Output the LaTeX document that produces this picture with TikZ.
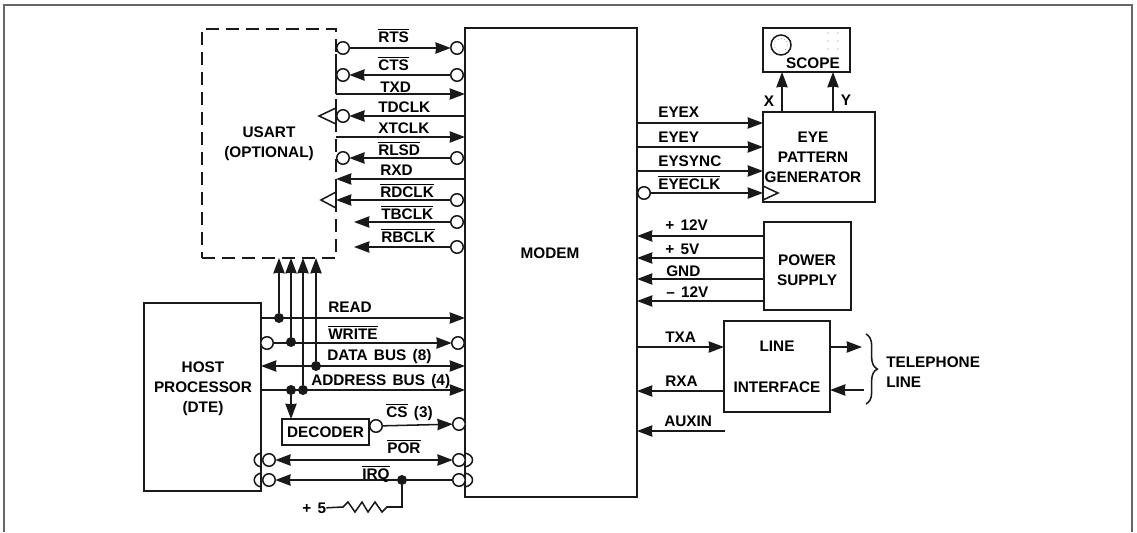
\documentclass[tikz,border=0pt]{standalone}
\usepackage{fontspec}
\setmainfont[WordSpace=1.5]{Liberation Sans}
\usetikzlibrary{arrows.meta, decorations.pathreplacing}
\def\px{0.75pt}
\newcommand{\ovl}[1]{$\overline{\hbox{#1}}$}
\tikzset{
  wire/.style={line width=1.15pt, black!90},
  arr/.style={wire, -{Stealth[length=11.5pt, width=8.5pt, inset=.5pt]}},
  darr/.style={wire, {Stealth[length=11.5pt, width=8.5pt, inset=.5pt]}-{Stealth[length=11.5pt, width=8.5pt, inset=.5pt]}},
  box/.style={rectangle, draw=black!90, line width=1.15pt, outer sep=0pt, inner sep=0pt},
  dashbox/.style={box, dash pattern=on 10pt off 5pt},
  bub/.style={circle, draw=black!90, line width=1.15pt, fill=white, minimum size=12.5*\px, inner sep=0pt, outer sep=0pt},
  jdot/.style={circle, fill=black!90, minimum size=10*\px, inner sep=0pt, outer sep=0pt},
  lbl/.style={font=\fontsize{11.5}{15}\selectfont\bfseries, inner sep=0pt, anchor=base west, text=black},
  txt/.style={font=\fontsize{11.5}{15}\selectfont\bfseries, inner sep=0pt, align=center, text=black},
}
\begin{document}
\begin{tikzpicture}[x=\px, y=-\px]
\useasboundingbox (0,0) rectangle (1137,532);
\draw[line width=1pt, black!60] (4,532) -- (4,5) -- (1132,5) -- (1132,532);

% main blocks
\node[dashbox, minimum width=134*\px, minimum height=229*\px, txt] (usart) at (269,143.5) {USART\\(OPTIONAL)};
\node[box, minimum width=172*\px, minimum height=469*\px] (modem) at (551,262.5) {};
\node[txt] (modemtxt) at (550,253) {MODEM};
\node[box, minimum width=117*\px, minimum height=188*\px] (host) at (202.5,397) {};
\node[txt] (hosttxt) at (203,389) {HOST\\PROCESSOR\\(DTE)};
\node[box, minimum width=87*\px, minimum height=26*\px, txt] (decoder) at (325.5,432) {DECODER};

\node[box, minimum width=87*\px, minimum height=44*\px] (scope) at (806.5,50) {};
\node[txt] (scopetxt) at (813,63) {SCOPE};
\node[circle, draw=black!90, line width=1.15pt, minimum size=20*\px, inner sep=0pt] (screen) at (781,45) {};
\node[circle, draw=black!60, dotted, minimum size=13*\px, inner sep=0pt] (trace) at (781,45) {};
\fill[black!50] (828,33) circle (.6) (838,33) circle (.6) (828,41) circle (.6) (838,41) circle (.6) (828,49) circle (.6) (838,49) circle (.6);
\node[box, minimum width=112*\px, minimum height=90*\px] (eye) at (819,157) {};
\node[txt] (eyetxt) at (813,157) {EYE\\PATTERN\\GENERATOR};
\node[box, minimum width=87*\px, minimum height=88*\px] (power) at (807.5,266) {};
\node[txt] (powertxt) at (807,270) {POWER\\SUPPLY};
\node[box, minimum width=106*\px, minimum height=91*\px, txt] (line) at (777,366.5) {LINE\\[15.7pt]INTERFACE};

% usart side
\node[bub] (rtsA) at (343,48) {}; \node[bub] (rtsB) at (457,48) {};
\node[bub] (ctsA) at (343,75) {}; \node[bub] (ctsB) at (457,75) {};
\node[bub] (tdclkA) at (343,116) {};
\node[bub] (rlsdA) at (343,158) {}; \node[bub] (rlsdB) at (457,158) {};
\node[bub] (rdclkB) at (457,200) {};
\node[bub] (tbclkB) at (457,222) {};
\node[bub] (rbclkB) at (457,247) {};
\draw[arr] (rtsA)--(rtsB);
\draw[arr] (ctsB)--(ctsA);
\draw[arr] (usart.east |- 0,94)--(modem.west |- 0,94);
\draw[arr] (modem.west |- 0,116)--(tdclkA);
\draw[arr] (usart.east |- 0,137)--(modem.west |- 0,137);
\draw[arr] (rlsdB)--(rlsdA);
\draw[arr] (modem.west |- 0,179)--(usart.east |- 0,179);
\draw[arr] (rdclkB)--(usart.east |- 0,200);
\draw[arr] (tbclkB)--(354,222);
\draw[arr] (rbclkB)--(354,247);
\draw[wire] (336,108)--(319,116)--(336,124)--cycle;
\draw[wire] (336,192)--(321,200)--(336,208)--cycle;
\draw[wire] (usart.east |- 0,54)--(usart.east |- 0,94);
\node[lbl] (rtstxt) at (378,42) {\ovl{RTS}};
\node[lbl] (ctstxt) at (378,70) {\ovl{CTS}};
\node[lbl] (txdtxt) at (380,92.5) {TXD};
\node[lbl] (tdclktxt) at (378,112.5) {TDCLK};
\node[lbl] (xtclktxt) at (378,133) {XTCLK};
\node[lbl] (rlsdtxt) at (378,155) {\ovl{RLSD}};
\node[lbl] (rxdtxt) at (380,175) {RXD};
\node[lbl] (rdclktxt) at (380,197) {\ovl{RDCLK}};
\node[lbl] (tbclktxt) at (381,219) {\ovl{TBCLK}};
\node[lbl] (rbclktxt) at (381,242) {\ovl{RBCLK}};

% host side
\node[jdot] (readD) at (279,318) {};
\node[jdot] (writeD) at (291,342) {};
\node[jdot] (dataD) at (316,366) {};
\node[jdot] (addrD) at (303,390) {};
\node[jdot] (decD) at (291,390) {};
\node[bub] (writeA) at (267,343) {}; \node[bub] (writeB) at (458,343) {};
\node[bub] (csA) at (376,426) {}; \node[bub] (csB) at (459,424) {};
\node[bub] (porA) at (269,460) {}; \node[bub] (porB) at (459,460) {};
\node[bub] (irqA) at (269,480) {}; \node[bub] (irqB) at (459,480) {};
\node[jdot] (irqD) at (402,480) {};
\draw[arr] (host.east |- 0,318)--(modem.west |- 0,318);
\draw[arr] (writeA)--(writeB);
\draw[darr] (host.east |- 0,366)--(modem.west |- 0,366);
\draw[arr] (host.east |- 0,390)--(modem.west |- 0,390);
\draw[arr] (decD)--(decD |- decoder.north);
\draw[arr] (csA)--(csB);
\draw[darr] (porA)--(porB);
\draw[arr] (irqB)--(irqA);
\draw[arr] (readD)--(readD |- usart.south);
\draw[arr] (writeD)--(writeD |- usart.south);
\draw[arr] (addrD)--(addrD |- usart.south);
\draw[arr] (dataD)--(dataD |- usart.south);
\draw[wire] (host.east |- 0,453) .. controls (252,455) and (252,465) .. (host.east |- 0,467);
\draw[wire] (host.east |- 0,473) .. controls (252,475) and (252,485) .. (host.east |- 0,487);
\draw[wire] (modem.west |- 0,453) .. controls (475,455) and (475,465) .. (modem.west |- 0,467);
\draw[wire] (modem.west |- 0,473) .. controls (475,475) and (475,485) .. (modem.west |- 0,487);
\node[lbl] (readtxt) at (328,312) {READ};
\node[lbl] (writetxt) at (328,339) {\ovl{WRITE}};
\node[lbl] (datatxt) at (327,360) {DATA BUS (8)};
\node[lbl] (addrtxt) at (311,385) {ADDRESS BUS (4)};
\node[lbl] (cstxt) at (386,417) {\ovl{CS} (3)};
\node[lbl] (portxt) at (387,453) {\ovl{POR}};
\node[lbl] (irqtxt) at (362,479) {\ovl{IRQ}};
\node[lbl] (plusfive) at (302,513) {+ 5};
\draw[wire] (plusfive.east) -- (343,507) -- ++(5,-5) -- ++(7,10) -- ++(7,-10) -- ++(6,10) -- ++(7,-10) -- ++(7,10) -- ++(5,-5) -| (irqD);

% eye pattern and scope
\node[bub] (eyeclkA) at (644,193) {};
\draw[arr] (modem.east |- 0,123)--(eye.west |- 0,123);
\draw[arr] (modem.east |- 0,147)--(eye.west |- 0,147);
\draw[arr] (modem.east |- 0,171)--(eye.west |- 0,171);
\draw[arr] (eyeclkA)--(eye.west |- 0,193);
\draw[wire] (763,186)--(778,193)--(763,200);
\draw[arr] (782,0 |- eye.north)--(782,0 |- scope.south);
\draw[arr] (833,0 |- eye.north)--(833,0 |- scope.south);
\node[txt] (xtxt) at (769,101) {X};
\node[txt] (ytxt) at (846,100) {Y};
\node[lbl] (eyextxt) at (658,117) {EYEX};
\node[lbl] (eyeytxt) at (658,142) {EYEY};
\node[lbl] (eysynctxt) at (658,166) {EYSYNC};
\node[lbl] (eyeclktxt) at (658,189) {\ovl{EYECLK}};

% power supply
\draw[arr] (power.west |- 0,236)--(modem.east |- 0,236);
\draw[arr] (power.west |- 0,258)--(modem.east |- 0,258);
\draw[arr] (power.west |- 0,279)--(modem.east |- 0,279);
\draw[arr] (power.west |- 0,301)--(modem.east |- 0,301);
\node[lbl] (ptwelvetxt) at (665,230) {+ 12V};
\node[lbl] (pfivetxt) at (665,254) {+ 5V};
\node[lbl] (gndtxt) at (666,276) {GND};
\node[lbl] (mtwelvetxt) at (666,297) {-- 12V};

% line interface
\coordinate (auxinA) at (725,431);
\coordinate (teloutB) at (862,347);
\coordinate (telinA) at (864,390);
\draw[arr] (modem.east |- 0,347)--(line.west |- 0,347);
\draw[arr] (line.west |- 0,391)--(modem.east |- 0,391);
\draw[arr] (auxinA)--(modem.east |- auxinA);
\draw[arr] (line.east |- teloutB)--(teloutB);
\draw[arr] (telinA)--(line.east |- telinA);
\draw[wire, decorate, decoration={brace, amplitude=8.5pt}] (866,334)--(866,404);
\node[lbl] (txatxt) at (665,342) {TXA};
\node[lbl] (rxatxt) at (665,386) {RXA};
\node[lbl] (auxintxt) at (664,426) {AUXIN};
\node[txt, align=left] (teltxt) at (886,372) [anchor=west] {TELEPHONE\\LINE};
\end{tikzpicture}
\end{document}
